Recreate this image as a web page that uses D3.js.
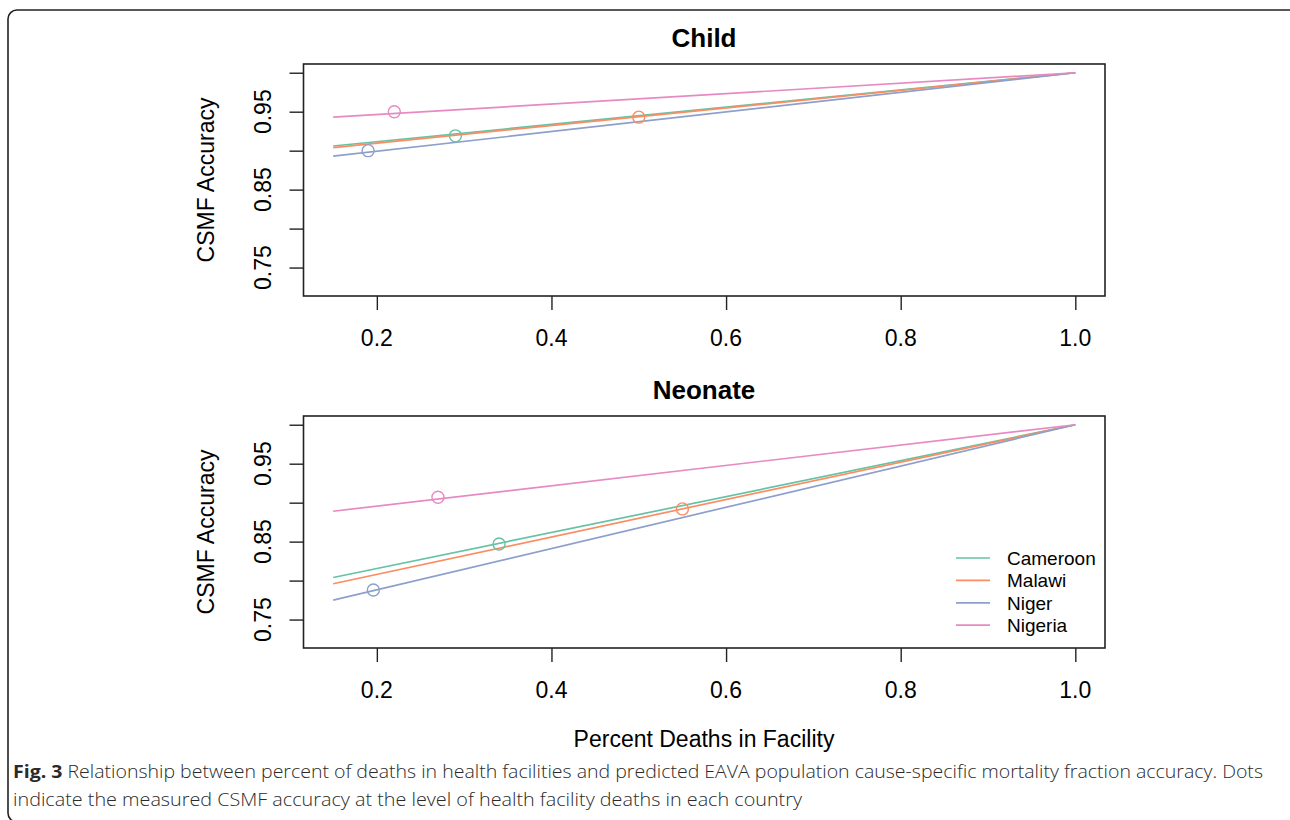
<!DOCTYPE html>
<html>
<head>
<meta charset="utf-8">
<script src="https://cdn.jsdelivr.net/npm/d3@7"></script>
<style>
  body { margin: 0; background: #fff; }
  svg { display: block; }
</style>
</head>
<body>
<svg id="chart" width="1290" height="820"></svg>
<script>
var countries = ["Cameroon", "Malawi", "Niger", "Nigeria"];
var colors = ["#66C2A5", "#FC8D62", "#8DA0CB", "#E78AC3"];

// fitted lines run from 15% to 100% facility deaths
var lineX = [0.15, 1.0];
var childStart = [0.906, 0.904, 0.893, 0.943];
var childEnd = [1.0, 1.0, 1.0, 1.0];
var childPointX = [0.29, 0.50, 0.19, 0.22];
var childPointY = [0.919, 0.943, 0.900, 0.950];

var neoStart = [0.804, 0.796, 0.775, 0.889];
var neoEnd = [1.0, 1.0, 1.0, 1.0];
var neoPointX = [0.34, 0.55, 0.196, 0.27];
var neoPointY = [0.847, 0.892, 0.788, 0.907];

var xTicks = [0.2, 0.4, 0.6, 0.8, 1.0];
var yTicks = [0.75, 0.80, 0.85, 0.90, 0.95, 1.00];
var yLabels = [0.75, 0.85, 0.95];

var font = "'Liberation Sans', Arial, Helvetica, sans-serif";
var svg = d3.select("#chart");

// outer frame of the figure
svg.append("rect")
    .attr("x", 8).attr("y", 10)
    .attr("width", 1290).attr("height", 812)
    .attr("rx", 9)
    .attr("fill", "none")
    .attr("stroke", "#222")
    .attr("stroke-width", 1.6);

var xScale = d3.scaleLinear().domain([0.116, 1.034]).range([303.5, 1105]);

function drawPanel(title, top, starts, ends, px, py, legend) {
    var boxTop = top, boxBottom = top + 232;
    var yScale = d3.scaleLinear().domain([0.7135, 1.0112]).range([boxBottom, boxTop]);
    var g = svg.append("g");

    g.append("text")
        .attr("x", 704).attr("y", top - 17)
        .attr("text-anchor", "middle")
        .style("font-family", font).style("font-weight", "bold").style("font-size", "26px")
        .text(title);

    // y axis: R style, ticks out from box edge
    var yAxis = g.append("g")
        .attr("transform", "translate(303.5,0)")
        .call(d3.axisLeft(yScale).tickValues(yTicks).tickSize(14).tickFormat(""));
    yAxis.select(".domain").remove();
    yAxis.selectAll("line").attr("stroke", "#222").attr("stroke-width", 1.4);

    g.selectAll(".ylab")
        .data(yLabels)
        .enter().append("text")
        .attr("transform", function(d) {
            return "translate(271," + yScale(d) + ") rotate(-90)";
        })
        .attr("text-anchor", "middle")
        .style("font-family", font).style("font-size", "23px")
        .text(function(d) { return d.toFixed(2); });

    g.append("text")
        .attr("transform", "translate(214," + (top + 116) + ") rotate(-90)")
        .attr("text-anchor", "middle")
        .style("font-family", font).style("font-size", "23px")
        .text("CSMF Accuracy");

    var xAxis = g.append("g")
        .attr("transform", "translate(0," + boxBottom + ")")
        .call(d3.axisBottom(xScale).tickValues(xTicks).tickSize(14).tickFormat(""));
    xAxis.select(".domain").remove();
    xAxis.selectAll("line").attr("stroke", "#222").attr("stroke-width", 1.4);

    g.selectAll(".xlab")
        .data(xTicks)
        .enter().append("text")
        .attr("x", function(d) { return xScale(d); })
        .attr("y", boxBottom + 50)
        .attr("text-anchor", "middle")
        .style("font-family", font).style("font-size", "23px")
        .text(function(d) { return d.toFixed(1); });

    g.append("rect")
        .attr("x", 303.5).attr("y", boxTop)
        .attr("width", 1105 - 303.5).attr("height", boxBottom - boxTop)
        .attr("fill", "none")
        .attr("stroke", "#222")
        .attr("stroke-width", 1.6);

    var line = d3.line()
        .x(function(d) { return xScale(d[0]); })
        .y(function(d) { return yScale(d[1]); });

    countries.forEach(function(c, i) {
        g.append("path")
            .datum([[lineX[0], starts[i]], [lineX[1], ends[i]]])
            .attr("d", line)
            .attr("fill", "none")
            .attr("stroke", colors[i])
            .attr("stroke-width", 1.7);
    });

    g.selectAll(".pt")
        .data(countries)
        .enter().append("circle")
        .attr("cx", function(d, i) { return xScale(px[i]); })
        .attr("cy", function(d, i) { return yScale(py[i]); })
        .attr("r", 6)
        .attr("fill", "none")
        .attr("stroke", function(d, i) { return colors[i]; })
        .attr("stroke-width", 1.4);

    if (legend) {
        var lg = g.selectAll(".leg")
            .data(countries)
            .enter().append("g")
            .attr("transform", function(d, i) {
                return "translate(0," + (top + 142 + i * 22.4) + ")";
            });
        lg.append("line")
            .attr("x1", 956).attr("x2", 990)
            .attr("stroke", function(d, i) { return colors[i]; })
            .attr("stroke-width", 1.7);
        lg.append("text")
            .attr("x", 1007).attr("y", 7)
            .style("font-family", font).style("font-size", "19px")
            .text(function(d) { return d; });
    }
}

drawPanel("Child", 64, childStart, childEnd, childPointX, childPointY, false);
drawPanel("Neonate", 416, neoStart, neoEnd, neoPointX, neoPointY, true);

svg.append("text")
    .attr("x", 704).attr("y", 747)
    .attr("text-anchor", "middle")
    .style("font-family", font).style("font-size", "23px")
    .text("Percent Deaths in Facility");

// caption
var capFont = "'Open Sans', 'Noto Sans', sans-serif";
var cap1 = svg.append("text")
    .attr("x", 13).attr("y", 778)
    .attr("textLength", 1250).attr("lengthAdjust", "spacingAndGlyphs")
    .style("font-family", capFont).style("font-size", "17.5px")
    .style("font-weight", 300).style("fill", "#2a2a2a");
cap1.append("tspan").style("font-weight", "bold").text("Fig. 3");
cap1.append("tspan").text(" Relationship between percent of deaths in health facilities and predicted EAVA population cause-specific mortality fraction accuracy. Dots");

svg.append("text")
    .attr("x", 13).attr("y", 806)
    .attr("textLength", 789).attr("lengthAdjust", "spacingAndGlyphs")
    .style("font-family", capFont).style("font-size", "17.5px")
    .style("font-weight", 300).style("fill", "#2a2a2a")
    .text("indicate the measured CSMF accuracy at the level of health facility deaths in each country");
</script>
</body>
</html>
